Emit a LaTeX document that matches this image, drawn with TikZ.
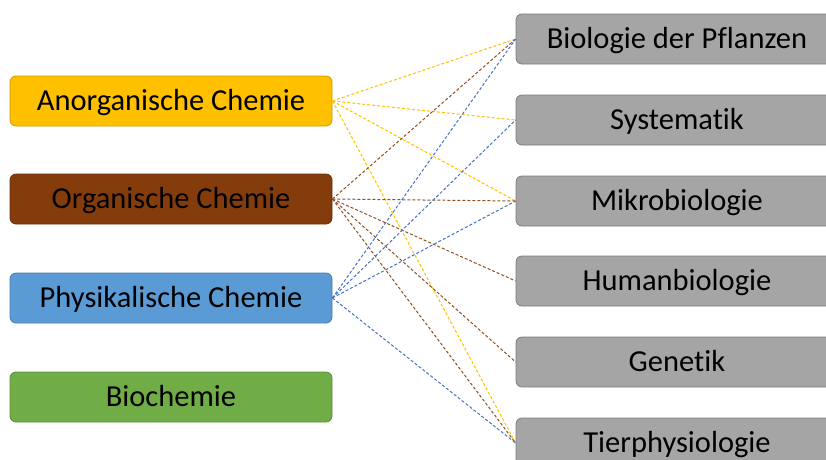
\documentclass[tikz,border=0pt]{standalone}
\usepackage{fontspec}
\setmainfont{Carlito}[Ligatures=NoCommon]
\usepackage{tikz}
\usetikzlibrary{positioning}
\definecolor{anorgC}{RGB}{255,192,0}
\definecolor{orgC}{RGB}{132,60,12}
\definecolor{physC}{RGB}{91,155,213}
\definecolor{bioC}{RGB}{112,173,71}
\definecolor{fachC}{RGB}{165,165,165}
\definecolor{linkblue}{RGB}{68,114,196}
\tikzset{
  chembox/.style={rectangle, rounded corners=6pt, minimum width=322pt, minimum height=50pt,
                  inner sep=0pt, text height=19.5pt, text depth=0pt,
                  draw=#1!80!black, fill=#1, line width=0.8pt,
                  font=\fontsize{30.5}{32}\selectfont},
  fachbox/.style={rectangle, rounded corners=6pt, minimum width=322pt, minimum height=50pt,
                  inner sep=0pt, text height=19.5pt, text depth=0pt,
                  draw=fachC!75!black, fill=fachC, line width=0.8pt,
                  font=\fontsize{30.5}{32}\selectfont},
  link/.style={#1, line width=1pt, dash pattern=on 3pt off 2pt},
}
\begin{document}
\begin{tikzpicture}[x=1pt,y=-1pt]
  \useasboundingbox (0,0) rectangle (826,459);
  \begin{scope}
  \clip (0,0) rectangle (826,459);
  % Chemie
  \node[chembox=anorgC] (anorg) at (171,101) {Anorganische Chemie};
  \node[chembox=orgC]   (org)   at (171,199) {Organische Chemie};
  \node[chembox=physC]  (phys)  at (171,298) {Physikalische Chemie};
  \node[chembox=bioC]   (biochem) at (171,397) {Biochemie};
  % Biologie
  \node[fachbox] (pflanzen) at (677,39)  {Biologie der Pflanzen};
  \node[fachbox] (system)   at (677,120) {Systematik};
  \node[fachbox] (mikro)    at (677,201) {Mikrobiologie};
  \node[fachbox] (human)    at (677,281) {Humanbiologie};
  \node[fachbox] (genetik)  at (677,362) {Genetik};
  \node[fachbox] (tier)     at (677,443) {Tierphysiologie};
  % links
  \foreach \t in {pflanzen,system,mikro,tier}
    \draw[link=anorgC] (anorg.east) -- (\t.west);
  \foreach \t in {pflanzen,mikro,human,genetik,tier}
    \draw[link=orgC!90!white] (org.east) -- (\t.west);
  \foreach \t in {pflanzen,system,mikro,tier}
    \draw[link=linkblue] (phys.east) -- (\t.west);
  \end{scope}
\end{tikzpicture}
\end{document}
